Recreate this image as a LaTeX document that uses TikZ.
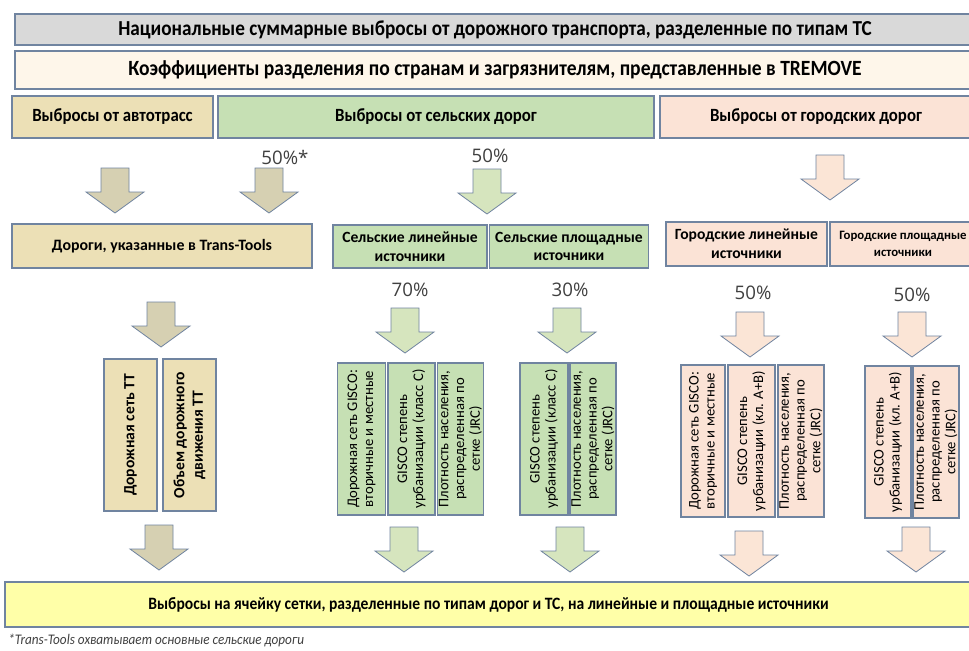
\documentclass[tikz,border=0pt]{standalone}
\usepackage{fontspec}
\setmainfont{Carlito}
\newfontfamily\narrowfont[FakeStretch=0.9]{Carlito}
\newfontfamily\pctfont{Open Sans}

\definecolor{boxline}{RGB}{112,132,160}
\definecolor{greyfill}{RGB}{217,217,217}
\definecolor{creamfill}{RGB}{254,246,234}
\definecolor{tanfill}{RGB}{236,224,182}
\definecolor{greenfill}{RGB}{198,224,180}
\definecolor{peachfill}{RGB}{251,227,214}
\definecolor{yellowfill}{RGB}{255,255,168}
\definecolor{tanarrow}{RGB}{214,208,178}
\definecolor{greenarrow}{RGB}{214,229,190}
\definecolor{peacharrow}{RGB}{251,229,214}
\definecolor{pctgrey}{RGB}{64,64,64}

\begin{document}
\begin{tikzpicture}[x=0.75pt,y=-0.75pt,
	box/.style={draw=boxline,line width=0.9pt,inner sep=1pt,align=center,text=black},
	sz/.style 2 args={minimum width=#1*0.75pt,minimum height=#2*0.75pt},
	upbox/.style={box,rotate=90,inner sep=0pt},
	pct/.style={font=\pctfont\fontsize{14}{16}\selectfont,text=pctgrey},
	pics/downarrow/.style={code={
		\draw[draw=boxline,line width=0.6pt,fill=#1,line join=miter]
			(-14,0) -- (14,0) -- (14,24) -- (29,24) -- (0,45) -- (-29,24) -- (-14,24) -- cycle;
	}}]

\useasboundingbox (0,0) rectangle (969,650);
\clip (0,0) rectangle (969,650);
\fill[white] (0,0) rectangle (969,650);

% top rows
\node[box,sz={960}{31},fill=greyfill,font=\narrowfont\bfseries\fontsize{16}{18}\selectfont] (natl) at (495,29.5)
	{Национальные суммарные выбросы от дорожного транспорта, разделенные по типам ТС};
\node[box,sz={960}{38},fill=creamfill,font=\narrowfont\bfseries\fontsize{16.3}{18}\selectfont] (coef) at (495,70)
	{Коэффициенты разделения по странам и загрязнителям, представленные в TREMOVE};

\node[box,sz={201}{42},fill=tanfill,font=\narrowfont\bfseries\fontsize{14}{16}\selectfont] (hwy) at (112.5,117) {Выбросы от автотрасс};
\node[box,sz={436}{42},fill=greenfill,font=\narrowfont\bfseries\fontsize{14}{16}\selectfont] (rural) at (436,117) {Выбросы от сельских дорог};
\node[box,sz={312}{42},fill=peachfill,font=\narrowfont\bfseries\fontsize{14}{16}\selectfont] (urban) at (816,117) {Выбросы от городских дорог};

% shares
\node[pct] (p1) at (285,157) {50\%*};
\node[pct] (p2) at (490,156) {50\%};
\node[pct] (p3) at (410,290) {70\%};
\node[pct] (p4) at (570,290) {30\%};
\node[pct] (p5) at (753,293) {50\%};
\node[pct] (p6) at (912,295) {50\%};

\pic at (115,168) {downarrow=tanarrow};
\pic at (269,168) {downarrow=tanarrow};
\pic at (487,169) {downarrow=greenarrow};
\pic at (830,155) {downarrow=peacharrow};

% sources
\node[box,sz={300}{44},fill=tanfill,font=\bfseries\fontsize{11.9}{14}\selectfont] (tt) at (162,246) {Дороги, указанные в Trans-Tools};
\node[box,sz={154}{43},fill=greenfill,font=\bfseries\fontsize{11.7}{14}\selectfont] (rurlin) at (410,246.5) {Сельские линейные\\источники};
\node[box,sz={159}{43},fill=greenfill,font=\bfseries\fontsize{11.7}{14}\selectfont] (rurarea) at (569,246.5) {Сельские площадные\\источники};
\node[box,sz={161}{44},fill=peachfill,font=\bfseries\fontsize{11.7}{14}\selectfont] (urblin) at (746.5,244) {Городские линейные\\источники};
\node[box,sz={146}{44},fill=peachfill,font=\bfseries\fontsize{9.6}{12.5}\selectfont] (urbarea) at (903,244) {Городские площадные\\источники};

\pic at (161,302) {downarrow=tanarrow};
\pic at (405,308) {downarrow=greenarrow};
\pic at (567,308) {downarrow=greenarrow};
\pic at (750,312) {downarrow=peacharrow};
\pic at (912,312) {downarrow=peacharrow};

% proxies
\node[upbox,sz={152}{53},fill=tanfill,font=\bfseries\fontsize{11.7}{14}\selectfont] (ttnet) at (130.5,435) {Дорожная сеть ТТ};
\node[upbox,sz={152}{53},fill=tanfill,font=\bfseries\fontsize{11.7}{14}\selectfont] (ttvol) at (189.5,435) {Объем дорожного\\движения ТТ};

\node[upbox,sz={152}{48},fill=greenfill,font=\fontsize{11}{12}\selectfont] (rl1) at (361.5,439) {Дорожная сеть GISCO:\\вторичные и местные};
\node[upbox,sz={152}{47},fill=greenfill,font=\fontsize{11}{12}\selectfont] (rl2) at (411.5,439) {GISCO степень\\урбанизации (класс С)};
\node[upbox,sz={152}{46},fill=greenfill,font=\fontsize{11}{11.8}\selectfont] (rl3) at (460.5,439) {Плотность населения,\\распределенная по\\сетке (JRC)};

\node[upbox,sz={152}{48},fill=greenfill,font=\fontsize{11}{12}\selectfont] (ra1) at (544,439) {GISCO степень\\урбанизации (класс С)};
\node[upbox,sz={152}{46},fill=greenfill,font=\fontsize{11}{11.8}\selectfont] (ra2) at (593,439) {Плотность населения,\\распределенная по\\сетке (JRC)};

\node[upbox,sz={152}{44},fill=peachfill,font=\fontsize{11}{12}\selectfont] (ul1) at (703,441) {Дорожная сеть GISCO:\\вторичные и местные};
\node[upbox,sz={152}{47},fill=peachfill,font=\fontsize{11}{12}\selectfont] (ul2) at (751.5,441) {GISCO степень\\урбанизации (кл. А+В)};
\node[upbox,sz={152}{46},fill=peachfill,font=\fontsize{11}{11.8}\selectfont] (ul3) at (801,441) {Плотность населения,\\распределенная по\\сетке (JRC)};

\node[upbox,sz={152}{46},fill=peachfill,font=\fontsize{11}{12}\selectfont] (ua1) at (888,442) {GISCO степень\\урбанизации (кл. А+В)};
\node[upbox,sz={152}{46},fill=peachfill,font=\fontsize{11}{11.8}\selectfont] (ua2) at (936,442) {Плотность населения,\\распределенная по\\сетке (JRC)};

\pic at (159,525) {downarrow=tanarrow};
\pic at (404,527) {downarrow=greenarrow};
\pic at (570,527) {downarrow=greenarrow};
\pic at (749,531) {downarrow=peacharrow};
\pic at (916,527) {downarrow=peacharrow};

% result
\node[box,sz={967}{45},fill=yellowfill,font=\narrowfont\bfseries\fontsize{13}{15}\selectfont] (grid) at (488.5,604.5)
	{Выбросы на ячейку сетки, разделенные по типам дорог и ТС, на линейные и площадные источники};
\node[anchor=west,inner sep=0pt,text=pctgrey,font=\narrowfont\itshape\fontsize{11}{13}\selectfont] (note) at (8,640)
	{*Trans-Tools охватывает основные сельские дороги};

\end{tikzpicture}
\end{document}
